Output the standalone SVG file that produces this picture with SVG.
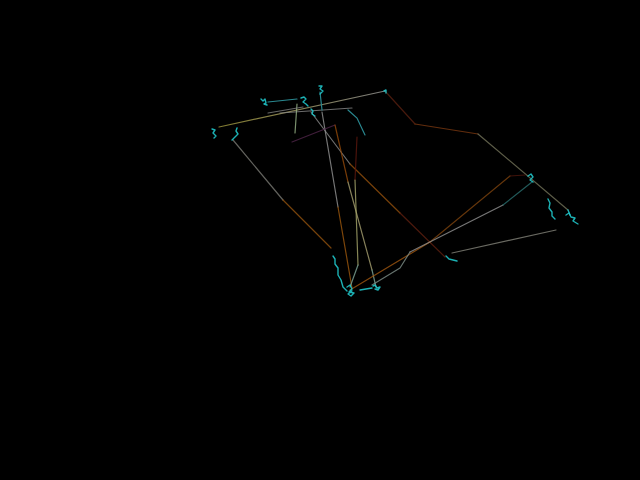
<svg xmlns="http://www.w3.org/2000/svg" width="640" height="480" viewBox="0 0 640 480">
<style>
.l{fill:none;stroke-width:1.2;stroke-linecap:round;stroke-linejoin:round;opacity:0.8}
.c{fill:none;stroke:#1fc4c8;stroke-width:1.4;stroke-linejoin:round;stroke-linecap:round;opacity:0.9}
.t{fill:none;stroke:#2a8890;stroke-width:1.2;stroke-linecap:round}
</style>
<defs>
<linearGradient id="g1" gradientUnits="userSpaceOnUse" x1="219" y1="127" x2="385" y2="91">
<stop offset="0" stop-color="#a0983c"/><stop offset="0.4" stop-color="#a8a060"/><stop offset="1" stop-color="#9a9a9a"/>
</linearGradient>
</defs>
<rect width="640" height="480" fill="#000"/>
<g id="lines">
<path class="l" stroke="#5a2010" d="M385 91 L415 124"/>
<path class="l" stroke="#7a3810" d="M415 124 L478 134"/>
<path class="l" stroke="#74745a" d="M478 134 L568 210"/>
<path class="l" stroke="url(#g1)" d="M219 127 L385 91"/>
<path class="l" stroke="#7a7a74" d="M233 140 L283 200"/>
<path class="l" stroke="#94520e" d="M283 200 L331 248"/>
<path class="l" stroke="#888888" d="M311 112 L350 164"/>
<path class="l" stroke="#94500c" d="M350 164 L400 213"/>
<path class="l" stroke="#602010" d="M400 213 L445 257"/>
<path class="l" stroke="#949494" d="M322 112 L338 207"/>
<path class="l" stroke="#9c580c" d="M338 207 L352 288"/>
<path class="l" stroke="#50264a" d="M292 142 L335 125"/>
<path class="l" stroke="#944a0a" d="M335 125 L348 182"/>
<path class="l" stroke="#a8a070" d="M348 182 L372 270"/>
<path class="l" stroke="#80a898" d="M372 270 L376 287"/>
<path class="l" stroke="#5e180e" d="M357 137 L355 180"/>
<path class="l" stroke="#a8a86c" d="M355 180 L358 265"/>
<path class="l" stroke="#80a898" d="M358 265 L350 287"/>
<path class="l" stroke="#a05810" d="M350 290 L430 242"/>
<path class="l" stroke="#7e440e" d="M430 242 L510 176"/>
<path class="l" stroke="#50180e" d="M510 176 L525 175"/>
<path class="l" stroke="#80908a" d="M372 285 L400 268 L410 252"/>
<path class="l" stroke="#949494" d="M410 252 L503 205"/>
<path class="l" stroke="#2a7070" d="M503 205 L532 182"/>
<path class="l" stroke="#84847a" d="M452 253 L556 230"/>
<path class="l" stroke="#888888" d="M280 113 L352 108"/>
<path class="l" stroke="#98b488" d="M297 104 L295 133"/>
<path class="l" stroke="#808080" d="M268 113 L303 107"/>
<path class="t" d="M268 102 L297 99"/>
<path class="t" d="M348 110 L357 118 L365 135"/>
<path class="t" d="M320 92 L322 110"/>
</g>
<g id="squiggles">
<path class="c" d="M212 129 L215 130 L213 133 L216 136 L214 138"/>
<path class="c" d="M237 128 L236 131 L238 134 L235 137 L232 140"/>
<path class="c" d="M261 99 L263 101 L265 99 L266 103 L264 104 L267 105"/>
<path class="c" d="M301 98 L304 97 L306 99 L303 102 L306 104 L308 106"/>
<path class="c" d="M319 86 L322 86 L320 89 L323 91 L320 94"/>
<path class="c" d="M311 109 L313 111 L312 114 L315 116"/>
<path class="c" d="M384 91 L386 90 L386 93"/>
<path class="c" d="M333 256 L335 259 L335 264 L338 268 L338 275 L341 280 L343 287 L347 291"/>
<path class="c" d="M347 287 L350 285 L352 289 L349 292 L354 293 L351 296 L348 294 L352 291"/>
<path class="c" d="M373 286 L375 285 L377 288 L380 287 L378 290 L375 289"/>
<path class="c" d="M360 290 L366 289 L372 288"/>
<path class="c" d="M528 176 L531 174 L533 177 L530 180 L533 182"/>
<path class="c" d="M548 199 L550 203 L549 208 L552 212 L552 216 L555 219"/>
<path class="c" d="M566 215 L569 213 L571 217 L575 218 L573 221 L578 224"/>
<path class="c" d="M446 256 L449 259 L453 260 L457 261"/>
<path class="c" d="M568 210 L570 215"/>
</g>
</svg>
